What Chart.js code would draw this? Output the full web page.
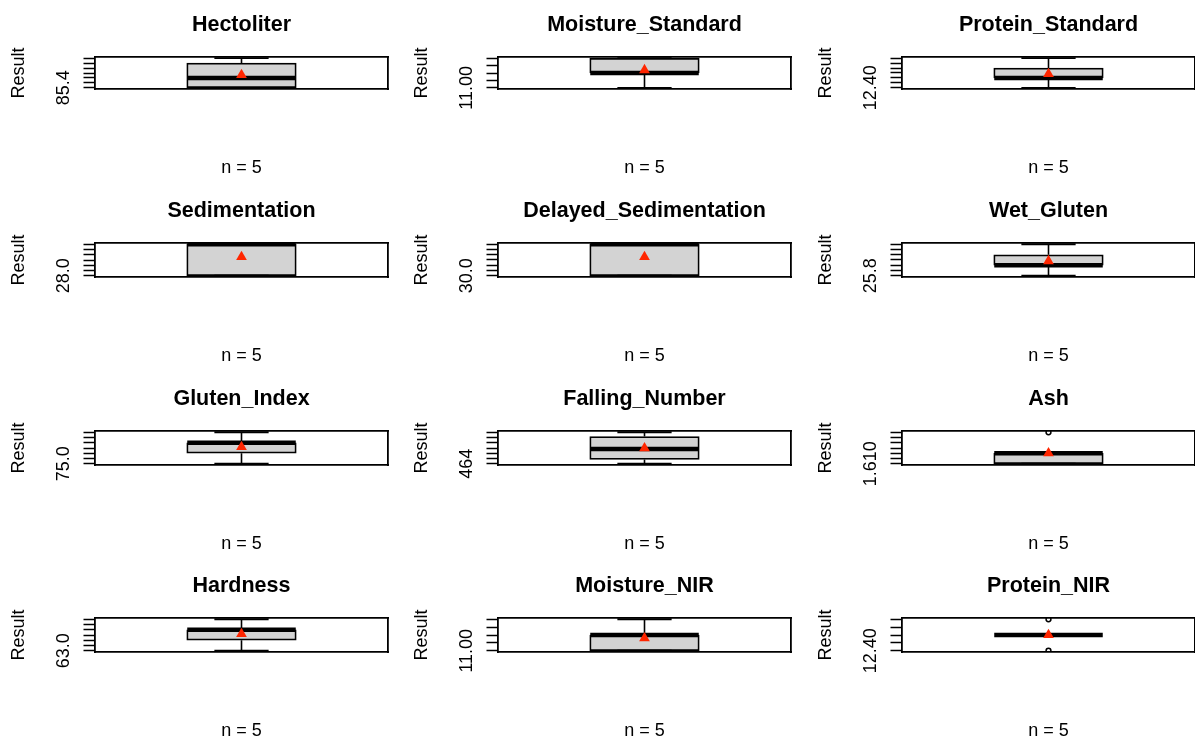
<!DOCTYPE html>
<html>
<head>
<title>Result boxplots</title>
<script src="https://cdn.jsdelivr.net/npm/chart.js"></script>
<style>
  body { margin: 0; width: 1195px; height: 738px; overflow: hidden; background: #fff; position: relative; }
  canvas { position: absolute; }
</style>
</head>
<body>
<script>
// one panel per variable, left to right, top to bottom
const variables = ['Hectoliter', 'Moisture_Standard', 'Protein_Standard',
                   'Sedimentation', 'Delayed_Sedimentation', 'Wet_Gluten',
                   'Gluten_Index', 'Falling_Number', 'Ash',
                   'Hardness', 'Moisture_NIR', 'Protein_NIR'];
const nCounts = [5, 5, 5, 5, 5, 5, 5, 5, 5, 5, 5, 5];

// box statistics
const lowWhiskers  = [85.4, 11.00, 12.40, 28.0, 30.0, 25.8, 75.0, 464, 1.610, 63.0, 11.00, 12.50];
const q1s          = [85.4, 11.10, 12.44, 28.0, 30.0, 26.0, 76.0, 468, 1.610, 64.0, 11.00, 12.50];
const medians      = [85.6, 11.10, 12.44, 31.0, 33.0, 26.0, 77.0, 478, 1.620, 65.0, 11.10, 12.50];
const q3s          = [85.9, 11.20, 12.48, 31.0, 33.0, 26.2, 77.0, 490, 1.620, 65.0, 11.10, 12.50];
const highWhiskers = [86.0, 11.20, 12.52, 31.0, 33.0, 26.4, 78.0, 494, 1.620, 66.0, 11.20, 12.50];
const means        = [85.66, 11.12, 12.456, 29.8, 31.8, 26.08, 76.6, 478.8, 1.620, 64.6, 11.08, 12.50];
const outliers     = [[], [], [], [], [], [], [], [], [1.640], [], [], [12.40, 12.60]];

// y axis: lowest tick (the only label R had room for) and tick step
const tickLabels = ['85.4', '11.00', '12.40', '28.0', '30.0', '25.8', '75.0', '464', '1.610', '63.0', '11.00', '12.40'];
const tickSteps  = [0.1, 0.05, 0.02, 0.5, 0.5, 0.1, 0.5, 5, 0.005, 0.5, 0.05, 0.05];

// page layout (pixels)
const colPlotLeft = [95, 498, 902];
const rowPlotTop = [57, 243, 431, 618];
const rowPlotHeight = [32, 34, 34, 34];
const plotWidth = 293, leftSpace = 95, rightSpace = 10, topSpace = 57, bottomSpace = 96;

const FONT = '"Liberation Sans", Arial, Helvetica, sans-serif';
Chart.defaults.font.family = FONT;
Chart.defaults.color = '#000';

const measure = document.createElement('canvas').getContext('2d');
measure.font = '18px ' + FONT;

const boxFill = '#d3d3d3';
const meanColor = '#ff2600';
const frameWidth = 1.8;

function segment(x0, y0, x1, y1, width, order) {
  return {
    type: 'line',
    data: [{x: x0, y: y0}, {x: x1, y: y1}],
    borderColor: '#000',
    borderWidth: width,
    borderCapStyle: 'butt',
    pointRadius: 0,
    order: order
  };
}

variables.forEach((name, i) => {
  const row = Math.floor(i / 3), col = i % 3;
  const W = leftSpace + plotWidth + rightSpace;
  const H = topSpace + rowPlotHeight[row] + bottomSpace;
  const cv = document.createElement('canvas');
  cv.width = W; cv.height = H;
  cv.style.left = (colPlotLeft[col] - leftSpace) + 'px';
  cv.style.top = (rowPlotTop[row] - topSpace) + 'px';
  cv.style.width = W + 'px'; cv.style.height = H + 'px';
  document.body.appendChild(cv);

  // R style range: data range widened by 4% on each side
  const pts = [lowWhiskers[i], highWhiskers[i]].concat(outliers[i]);
  const lo = Math.min(...pts), hi = Math.max(...pts);
  const ext = (hi - lo) * 0.04;
  const first = parseFloat(tickLabels[i]);
  const tickVals = [];
  for (let k = 0; first + k * tickSteps[i] <= hi + ext + 1e-9; k++) tickVals.push(first + k * tickSteps[i]);
  const labelW = measure.measureText(tickLabels[i]).width;

  const datasets = [
    { type: 'scatter', data: [{x: 1, y: means[i]}], pointStyle: 'triangle', pointRadius: 6.2,
      backgroundColor: meanColor, borderWidth: 0, order: 0 },
    { type: 'scatter', data: outliers[i].map(v => ({x: 1, y: v})), pointStyle: 'circle', pointRadius: 2.4,
      backgroundColor: 'rgba(0,0,0,0)', borderColor: '#000', borderWidth: 1.5, order: 1 },
    segment(0.8, medians[i], 1.2, medians[i], 4.5, 2),
    segment(0.9, lowWhiskers[i], 1.1, lowWhiskers[i], 1.8, 3),
    segment(0.9, highWhiskers[i], 1.1, highWhiskers[i], 1.8, 3),
    segment(1, lowWhiskers[i], 1, q1s[i], 1.6, 4),
    segment(1, q3s[i], 1, highWhiskers[i], 1.6, 4),
    { type: 'bar', data: [{x: 1, y: [q1s[i], q3s[i]]}], backgroundColor: boxFill, borderColor: '#000',
      borderWidth: 1.8, borderSkipped: false, barThickness: 109.5, order: 5 }
  ];

  new Chart(cv.getContext('2d'), {
    type: 'scatter',
    data: { datasets: datasets },
    options: {
      responsive: false,
      animation: false,
      devicePixelRatio: 1,
      events: [],
      layout: { padding: { left: 0, right: rightSpace, top: 0, bottom: 0 } },
      plugins: {
        legend: { display: false },
        tooltip: { enabled: false },
        title: {
          display: true,
          text: name,
          fullSize: false,
          color: '#000',
          font: { family: FONT, size: 21.5, weight: 'bold' },
          padding: { top: 12.1, bottom: 19.1 }
        }
      },
      scales: {
        x: {
          type: 'linear', position: 'bottom', min: 0.46, max: 1.54, offset: false,
          ticks: { display: false },
          grid: { display: true, offset: false, drawOnChartArea: false, drawTicks: false },
          border: { display: true, color: '#000', width: frameWidth },
          title: { display: true, text: 'n = ' + nCounts[i], color: '#000',
                   font: { size: 18 }, padding: { top: 0, bottom: 6.5 } },
          afterFit: s => { s.height = bottomSpace; }
        },
        xTop: {
          type: 'linear', position: 'top', min: 0.46, max: 1.54, offset: false,
          ticks: { display: false },
          grid: { display: true, offset: false, drawOnChartArea: false, drawTicks: false },
          border: { display: true, color: '#000', width: frameWidth }
        },
        y: {
          type: 'linear', position: 'left', min: lo - ext, max: hi + ext,
          afterBuildTicks: s => { s.ticks = tickVals.map(v => ({value: v})); },
          ticks: {
            autoSkip: false, minRotation: 90, maxRotation: 90, crossAlign: 'center',
            padding: 31.4 - 11.5 - labelW / 2,
            font: { size: 18 }, color: '#000',
            callback: (v, idx) => idx === 0 ? tickLabels[i] : ''
          },
          grid: { display: true, drawOnChartArea: false, drawTicks: true, tickLength: 11.5,
                  tickWidth: 1.5, tickColor: '#000' },
          border: { display: true, color: '#000', width: frameWidth },
          title: { display: true, text: 'Result', color: '#000', font: { size: 18 },
                   padding: { top: 8.6, bottom: 0 } },
          afterFit: s => { s.width = leftSpace; }
        },
        yRight: {
          type: 'linear', position: 'right',
          ticks: { display: false },
          grid: { display: true, drawOnChartArea: false, drawTicks: false },
          border: { display: true, color: '#000', width: frameWidth }
        }
      }
    }
  });
});
</script>
</body>
</html>
